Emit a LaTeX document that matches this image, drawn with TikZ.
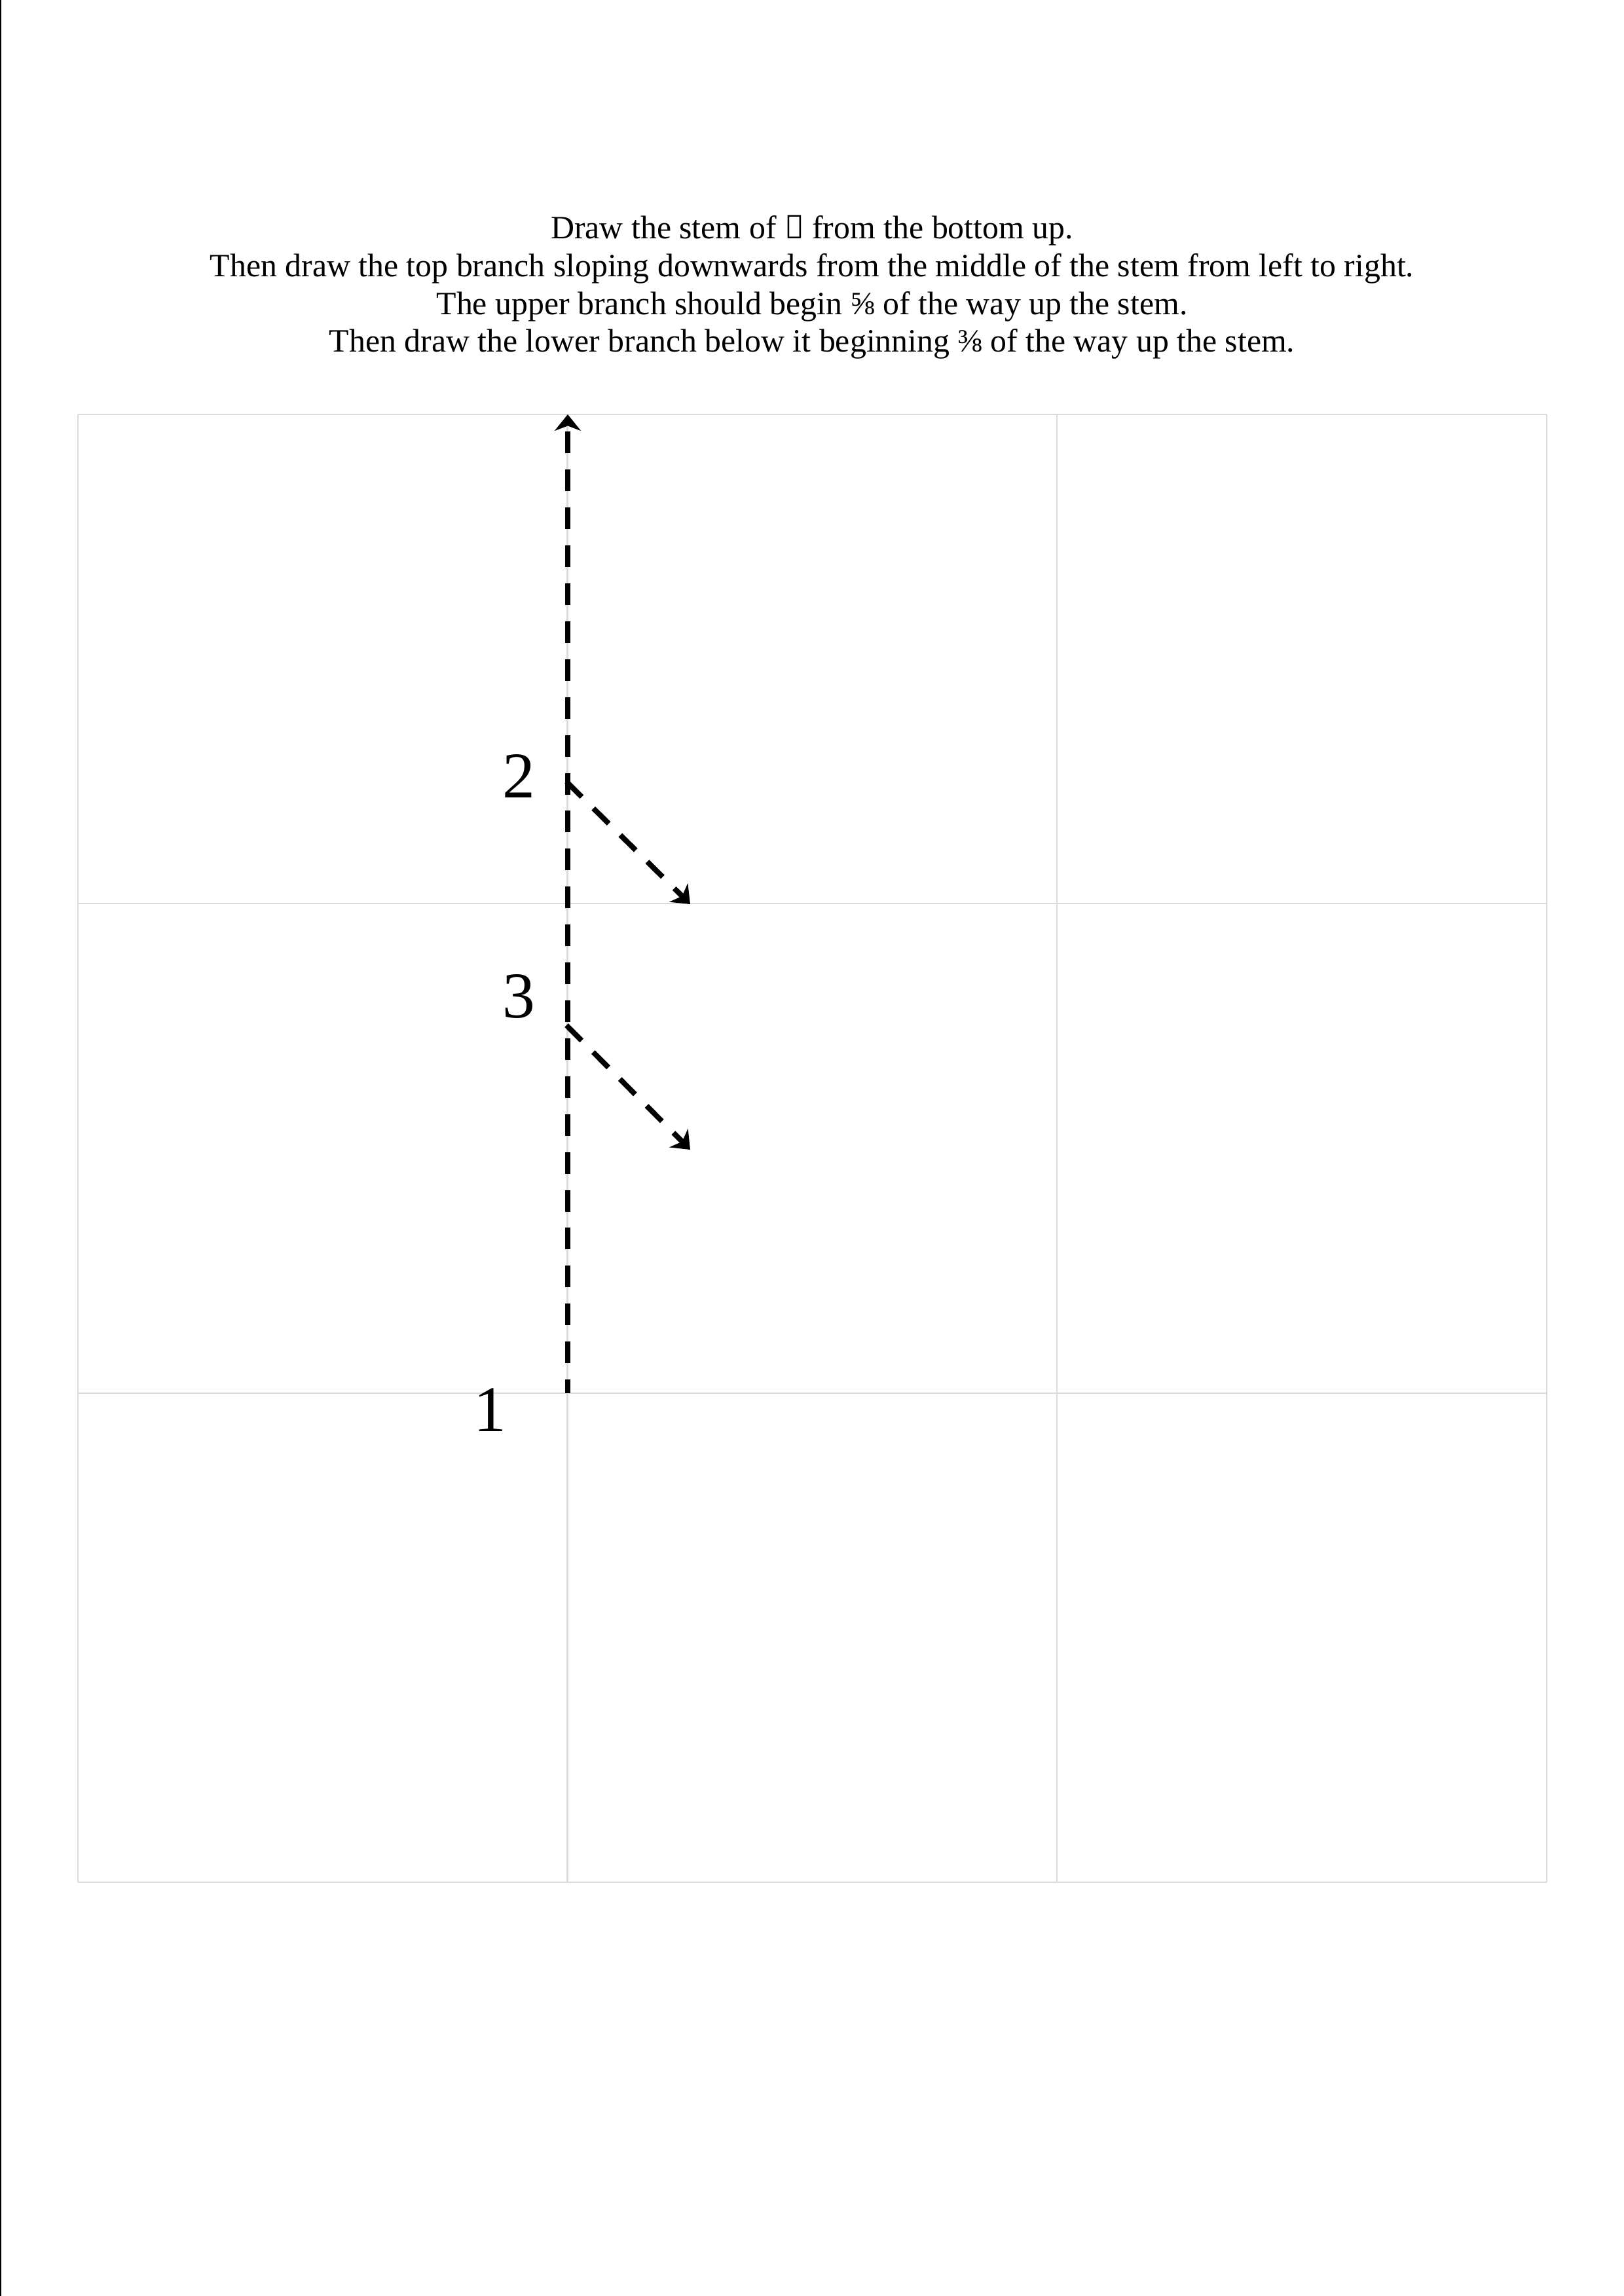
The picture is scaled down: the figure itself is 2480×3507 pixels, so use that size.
\documentclass[tikz,border=0pt]{standalone}
\usepackage{fontspec}
\setmainfont{Liberation Serif}
\newfontfamily\runefont{Noto Sans}
\usetikzlibrary{arrows.meta}
\begin{document}
\begin{tikzpicture}[x=0.0846667mm,y=-0.0846667mm,
  gridline/.style={draw=black!14, line width=0.5pt},
  stroke/.style={line width=1.95pt, dash pattern=on 7.95pt off 6pt, dash phase=2.9pt,
    -{Stealth[length=6pt,width=9.6pt,inset=1.8pt]}},
  hdr/.style={anchor=base, inner sep=0pt, font=\fontsize{12}{14}\selectfont},
  num/.style={inner sep=0pt, font=\fontsize{24}{28}\selectfont}]
\useasboundingbox (0,0) rectangle (2480,3507);
\fill[white] (0,0) rectangle (2480,3507);
\draw[line width=0.35pt] (1,0) -- (1,3507);
% header
\node[hdr] (t1) at (1240,364) {Draw the stem of {\runefont ᚨ} from the bottom up.};
\node[hdr] (t2) at (1240,422) {Then draw the top branch sloping downwards from the middle of the stem from left to right.};
\node[hdr] (t3) at (1240,480) {The upper branch should begin ⅝ of the way up the stem.};
\node[hdr] (t4) at (1240,537) {Then draw the lower branch below it beginning ⅜ of the way up the stem.};
% grid
\foreach \gx in {119,866.5,1614,2362} \draw[gridline] (\gx,633) -- (\gx,2875);
\foreach \gy in {633,1380.3,2127.7,2875} \draw[gridline] (119,\gy) -- (2362,\gy);
% strokes
\coordinate (s0) at (867,2128);
\coordinate (s1) at (867,633);
\coordinate (b1) at (865,1194);
\coordinate (e1) at (1054,1381);
\coordinate (b2) at (865,1566);
\coordinate (e2) at (1054,1756);
\draw[stroke] (s0) -- (s1);
\draw[stroke, dash phase=0pt] (b1) -- (e1);
\draw[stroke, dash phase=0pt] (b2) -- (e2);
% labels
\node[num] (n1) at (748,2154) {1};
\node[num] (n2) at (792,1186) {2};
\node[num] (n3) at (792,1522) {3};
\end{tikzpicture}
\end{document}
